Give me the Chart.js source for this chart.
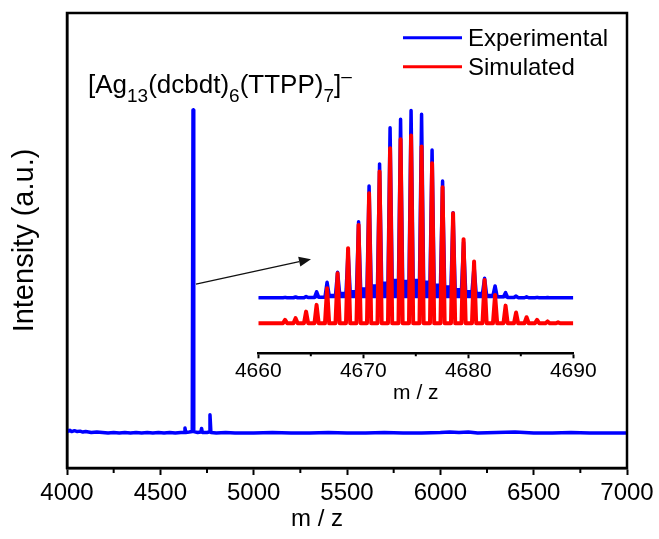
<!DOCTYPE html>
<html><head><meta charset="utf-8">
<script src="https://cdn.jsdelivr.net/npm/chart.js@4/dist/chart.umd.min.js"></script>
<style>
html,body{margin:0;padding:0;background:#fff;}
#wrap{position:relative;width:659px;height:539px;overflow:hidden;}
#main{position:absolute;left:0;top:0;}
#inset{position:absolute;left:200px;top:90px;}
</style></head><body>
<div id="wrap">
<canvas id="main" width="659" height="539"></canvas>
<canvas id="inset" width="440" height="320"></canvas>
</div>
<script>
// ---------- DATA ----------
// Full-range spectrum (m/z, intensity a.u.)
const mainMz = [4000,4008,4016,4025,4040,4055,4070,4085,4100,4130,4160,4190,4220,4250,4280,4310,4340,4370,4400,4430,4460,4490,4520,4550,4580,4610,4628,4632,4636,4655,4671,4675,4679,4700,4717,4721,4725,4750,4761,4766,4771,4800,4850,4900,4950,5000,5100,5200,5300,5400,5500,5600,5700,5800,5900,6000,6050,6100,6150,6200,6300,6400,6450,6500,6600,6700,6800,6900,7000];
const mainIntensity = [0.9,0.6,0.8,0.5,0.7,0.5,0.6,0.4,0.5,0.3,0.4,0.3,0.2,0.3,0.2,0.3,0.2,0.3,0.2,0.3,0.2,0.3,0.2,0.3,0.2,0.3,0.3,1.3,0.3,0.4,0.5,71.2,0.5,0.3,0.4,1.2,0.3,0.3,0.4,4.2,0.3,0.2,0.3,0.2,0.2,0.2,0.3,0.2,0.2,0.3,0.2,0.2,0.3,0.2,0.2,0.3,0.4,0.3,0.4,0.2,0.3,0.4,0.3,0.2,0.2,0.3,0.2,0.2,0.2];
const mainTicks = [4000,4500,5000,5500,6000,6500,7000];
const mainMinorTicks = [4250,4750,5250,5750,6250,6750];

// Isotope pattern (inset)
const insetMz = [4662.55,4663.55,4664.55,4665.55,4666.55,4667.55,4668.55,4669.55,4670.55,4671.55,4672.55,4673.55,4674.55,4675.55,4676.55,4677.55,4678.55,4679.55,4680.55,4681.55,4682.55,4683.55,4684.55,4685.55,4686.55,4687.55,4688.55];
const simulated = [1.8,2.7,6.2,9.8,18.7,26.6,40,52.4,69.3,80.8,93.2,98,100,94.1,85.3,72.5,58.6,44.8,32.9,23.1,15.1,9.4,5.7,3.2,1.8,1.0,0.5];
const experimental = [0.5,0.7,1.0,3.5,8.5,13.9,25,40.8,59.8,71.6,90.9,95.4,100,98,79,62.5,45.6,30,17,10.7,6.6,3.0,1.2,0.8,0.5,0.4,0.3];
const experimentalBackground = [0.3,0.3,0.4,0.6,1.5,2.5,3.5,5,6.5,8,9.5,9,9.5,8.5,7,6,4.5,3.5,2.5,1.5,0.8,0.4,0.3,0.3,0.3,0.3,0.3];
const insetTicks = [4660,4670,4680,4690];
const insetMinorTicks = [4665,4675,4685];

const seriesLabels = ['Experimental','Simulated'];
const ionLabel = [['[Ag','n'],['13','sub'],['(dcbdt)','n'],['6','sub'],['(TTPP)','n'],['7','sub'],[']','n'],['\u2013','sup']];

// ---------- STYLE ----------
const BLUE = '#0000ff', RED = '#ff0000';
const FONT = "'Liberation Sans', Arial, sans-serif";
const BLUE_OFFSET = 13.3;   // vertical offset of experimental trace in inset
const HALF = 0.2;           // drawn half-width of an isotope peak
Chart.defaults.font.family = FONT;
Chart.defaults.color = '#000';
const plain = v => String(v);

// build line points from the arrays
const mainPts = mainMz.map((x,i)=>({x, y: mainIntensity[i]}));
const redPts = [{x:4660,y:0}];
insetMz.forEach((c,i)=>{ redPts.push({x:c-HALF,y:0},{x:c,y:simulated[i]},{x:c+HALF,y:0}); });
redPts.push({x:4690,y:0});
const bluePts = [{x:4660,y:BLUE_OFFSET+0.3}];
insetMz.forEach((c,i)=>{
  const prev = i>0 ? experimentalBackground[i-1] : 0.3;
  bluePts.push({x:c-HALF,y:BLUE_OFFSET+prev},{x:c,y:BLUE_OFFSET+experimental[i]},{x:c+HALF,y:BLUE_OFFSET+experimentalBackground[i]});
});
bluePts.push({x:4690,y:BLUE_OFFSET+0.3});

// ---------- PLUGINS ----------
const extras = {
  id: 'extras',
  afterDraw(chart, args, o) {
    const ctx = chart.ctx, a = chart.chartArea, xs = chart.scales.x, ys = chart.scales.y;
    ctx.save();
    ctx.strokeStyle = '#000'; ctx.fillStyle = '#000';
    if (o.minor) {
      ctx.lineWidth = o.minor.width;
      ctx.beginPath();
      o.minor.values.forEach(v=>{ const px = xs.getPixelForValue(v); ctx.moveTo(px, a.bottom); ctx.lineTo(px, a.bottom + o.minor.len); });
      ctx.stroke();
    }
    if (o.frame) {
      ctx.lineWidth = 2.5;
      ctx.strokeRect(a.left, a.top, a.right - a.left, a.bottom - a.top);
    }
    if (o.arrow) {
      const x1 = xs.getPixelForValue(o.arrow.from[0]), y1 = ys.getPixelForValue(o.arrow.from[1]);
      const x2 = xs.getPixelForValue(o.arrow.to[0]), y2 = ys.getPixelForValue(o.arrow.to[1]);
      const ang = Math.atan2(y2-y1, x2-x1), L = 12, W = 5;
      const bx = x2 - L*Math.cos(ang), by = y2 - L*Math.sin(ang);
      ctx.strokeStyle = '#111'; ctx.fillStyle = '#111'; ctx.lineWidth = 1.3;
      ctx.beginPath(); ctx.moveTo(x1,y1); ctx.lineTo(bx,by); ctx.stroke();
      ctx.beginPath(); ctx.moveTo(x2,y2);
      ctx.lineTo(bx + W*Math.sin(ang), by - W*Math.cos(ang));
      ctx.lineTo(bx - W*Math.sin(ang), by + W*Math.cos(ang));
      ctx.closePath(); ctx.fill();
    }
    if (o.legend) {
      const L = o.legend;
      L.items.forEach((it,i)=>{
        const y = L.y + i*L.gap;
        ctx.strokeStyle = it.color; ctx.lineWidth = 3;
        ctx.beginPath(); ctx.moveTo(L.x, y); ctx.lineTo(L.x + L.len, y); ctx.stroke();
        ctx.fillStyle = '#000'; ctx.font = L.size + 'px ' + FONT; ctx.textBaseline = 'alphabetic';
        ctx.fillText(it.text, L.x + L.len + 6, y + 8.5);
      });
    }
    if (o.ion) {
      let x = o.ion.x; const base = o.ion.y;
      ctx.fillStyle = '#000'; ctx.textBaseline = 'alphabetic';
      ionLabel.forEach(([t,k])=>{
        const size = k==='n' ? 26 : 19;
        const dy = k==='sub' ? 8.4 : (k==='sup' ? -11.5 : 0);
        ctx.font = size + 'px ' + FONT;
        ctx.fillText(t, x, base + dy);
        x += ctx.measureText(t).width;
      });
    }
    ctx.restore();
  }
};

// ---------- MAIN CHART ----------
new Chart(document.getElementById('main'), {
  type: 'line',
  data: { datasets: [{ label: seriesLabels[0], data: mainPts, borderColor: BLUE, borderWidth: 3.5, pointRadius: 0, tension: 0, borderJoinStyle: 'round', fill: false }]},
  options: {
    responsive: false, animation: false,
    layout: { padding: { left: 0, top: 13, right: 32, bottom: 0 } },
    plugins: {
      legend: { display: false }, tooltip: { enabled: false },
      extras: {
        frame: true,
        minor: { values: mainMinorTicks, len: 5, width: 2 },
        arrow: { from: [4691, 32.9], to: [5307, 38.4] },
        legend: { x: 403, y: 37.7, gap: 29, len: 59, size: 24, items: [{text: seriesLabels[0], color: BLUE}, {text: seriesLabels[1], color: RED}] },
        ion: { x: 88, y: 93.3 }
      }
    },
    scales: {
      x: {
        type: 'linear', min: 4000, max: 7000,
        afterBuildTicks(s){ s.ticks = mainTicks.map(v=>({value:v})); },
        ticks: { font: { size: 24 }, color: '#000', padding: 4, maxRotation: 0, autoSkip: false, callback: plain },
        grid: { drawOnChartArea: false, tickLength: 7, tickWidth: 2, tickColor: '#000' },
        border: { color: '#000', width: 2.5 },
        title: { display: true, text: 'm / z' + '\u00a0'.repeat(9), font: { size: 24 }, color: '#000', padding: { top: 0, bottom: 5.6 } },
        afterFit(s){ s.height = 71; s.paddingLeft = 0; s.paddingRight = 0; }
      },
      y: {
        min: -7.5, max: 92.5,
        ticks: { display: false },
        grid: { drawOnChartArea: false, drawTicks: false },
        border: { color: '#000', width: 2.5 },
        title: { display: true, text: 'Intensity (a.u.)', font: { size: 29 }, color: '#000', padding: { top: 7.6, bottom: 0 } },
        afterFit(s){ s.width = 67; }
      }
    }
  },
  plugins: [extras]
});

// ---------- INSET CHART ----------
new Chart(document.getElementById('inset'), {
  type: 'line',
  data: { datasets: [
    { label: seriesLabels[1], data: redPts, borderColor: RED, borderWidth: 4, pointRadius: 0, tension: 0, borderJoinStyle: 'round', fill: false, order: 0 },
    { label: seriesLabels[0], data: bluePts, borderColor: BLUE, backgroundColor: BLUE, borderWidth: 3.5, pointRadius: 0, tension: 0, borderJoinStyle: 'round', fill: { value: BLUE_OFFSET }, order: 1 }
  ]},
  options: {
    responsive: false, animation: false,
    layout: { padding: { left: 58.3, right: 66.7, top: 8, bottom: 0 } },
    plugins: {
      legend: { display: false }, tooltip: { enabled: false },
      extras: { minor: { values: insetMinorTicks, len: 3, width: 2 } }
    },
    scales: {
      x: {
        type: 'linear', min: 4660, max: 4690,
        afterBuildTicks(s){ s.ticks = insetTicks.map(v=>({value:v})); },
        ticks: { font: { size: 21 }, color: '#000', padding: 0, maxRotation: 0, autoSkip: false, callback: plain },
        grid: { drawOnChartArea: false, tickLength: 5, tickWidth: 2, tickColor: '#000' },
        border: { color: '#000', width: 2.5 },
        title: { display: true, text: 'm / z', font: { size: 21 }, color: '#000', padding: { top: 0, bottom: 4.4 } },
        afterFit(s){ s.height = 56.7; s.paddingLeft = 0; s.paddingRight = 0; }
      },
      y: { display: false, min: -16, max: 120 }
    }
  },
  plugins: [extras]
});
</script>
</body></html>
